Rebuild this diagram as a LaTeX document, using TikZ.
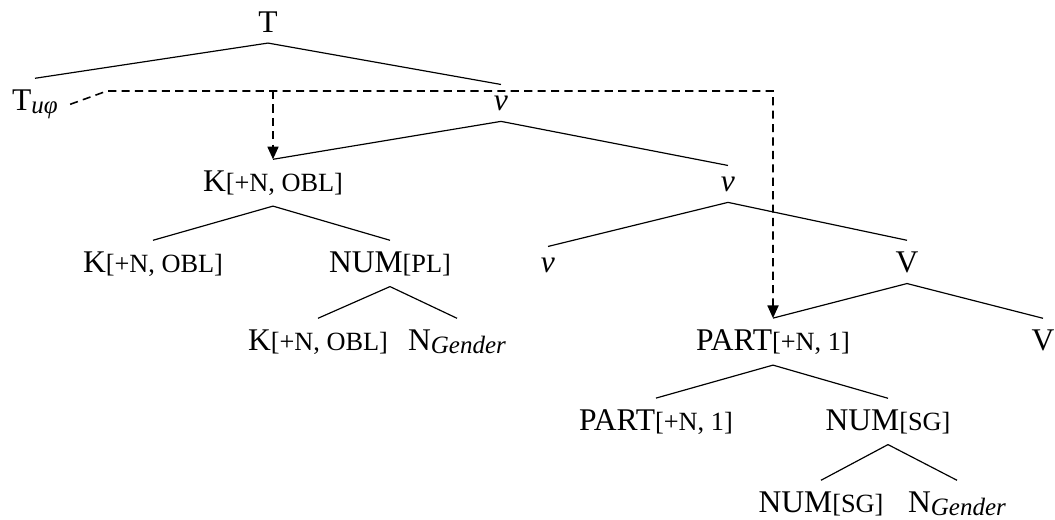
\documentclass[tikz,border=0pt]{standalone}
\usepackage{fontspec}
\setmainfont{Liberation Serif}
\usetikzlibrary{arrows.meta}
\newcommand{\feat}[1]{{\fontsize{10}{12}\selectfont[#1]}}
\newcommand{\lsub}[1]{\raisebox{-1.5pt}{\fontsize{9.5}{11}\selectfont\itshape #1}}

\begin{document}
\begin{tikzpicture}[
    x=0.38pt, y=-0.38pt,
    every node/.style = {anchor=base, inner xsep=1pt, inner ysep=4pt, font=\fontsize{12}{14}\selectfont},
    branch/.style = {line width=0.45pt},
    agree/.style = {dash pattern=on 3.1pt off 2pt, line width=0.6pt, -{Triangle[length=4.8pt,width=4.2pt]}}
  ]
\useasboundingbox (0,0) rectangle (1055,519);
% nodes, by level
\node (t)     at (268,32)  {T};
\node (tu)    at (35,110)  {T\lsub{uφ}};
\node (v1)    at (501,110) {\textit{v}};
\node (k2)    at (273,191) {K\feat{+N, OBL}};
\node (v2)    at (728,191) {\textit{v}};
\node (k3)    at (153,272) {K\feat{+N, OBL}};
\node (nump)  at (390,272) {NUM\feat{PL}};
\node (v3)    at (548,272) {\textit{v}};
\node (vv)    at (907,272) {V};
\node (k4)    at (318,350) {K\feat{+N, OBL}};
\node (ng1)   at (457,350) {N\lsub{Gender}};
\node (part)  at (773,350) {PART\feat{+N, 1}};
\node (vr)    at (1043,350) {V};
\node (part2) at (656,430) {PART\feat{+N, 1}};
\node (nums)  at (888,430) {NUM\feat{SG}};
\node (nums2) at (821,512) {NUM\feat{SG}};
\node (ng2)   at (957,512) {N\lsub{Gender}};
% branches
\draw[branch] (t.south) -- (tu.north) (t.south) -- (v1.north);
\draw[branch] (v1.south) -- (k2.north) (v1.south) -- (v2.north);
\draw[branch] (k2.south) -- (k3.north) (k2.south) -- (nump.north);
\draw[branch] (nump.south) -- (k4.north) (nump.south) -- (ng1.north);
\draw[branch] (v2.south) -- (v3.north) (v2.south) -- (vv.north);
\draw[branch] (vv.south) -- (part.north) (vv.south) -- (vr.north);
\draw[branch] (part.south) -- (part2.north) (part.south) -- (nums.north);
\draw[branch] (nums.south) -- (nums2.north) (nums.south) -- (ng2.north);
% agreement
\coordinate (hop) at (107,91);
\draw[agree] ([xshift=3.5pt]tu.east) -- (hop) -- (hop -| part.north) -- (part.north);
\draw[agree] (hop -| k2.north) -- (k2.north);
\end{tikzpicture}
\end{document}
